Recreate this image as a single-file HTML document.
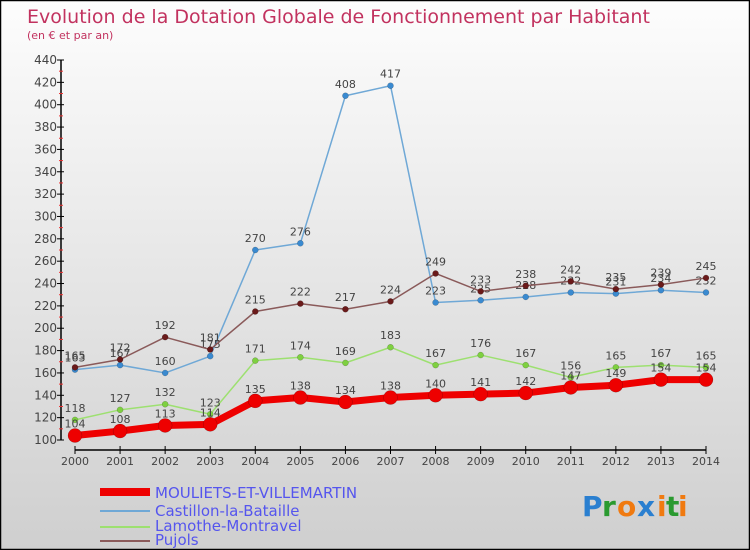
<!DOCTYPE html>
<html><head><meta charset="utf-8"><style>
body{margin:0;width:750px;height:550px;overflow:hidden}
svg{display:block;font-family:"DejaVu Sans","Liberation Sans",sans-serif}
</style></head><body>
<svg width="750" height="550" viewBox="0 0 750 550">
<defs><linearGradient id="bg" x1="0" y1="0" x2="0" y2="1"><stop offset="0" stop-color="#fdfdfd"/><stop offset="1" stop-color="#cfcfcf"/></linearGradient></defs>
<rect x="0.5" y="0.5" width="749" height="549" fill="url(#bg)" stroke="#000" stroke-width="1.5"/>
<text x="27" y="23" font-size="19" fill="#c2325f">Evolution de la Dotation Globale de Fonctionnement par Habitant</text>
<text x="27" y="39" font-size="11" fill="#c2325f">(en € et par an)</text>
<g id="axes"></g>
<g id="series"></g>
<g id="legend">
<line x1="100" y1="492" x2="150" y2="492" stroke="#e00" stroke-width="8"/>
<text x="155" y="498" font-size="15" fill="#5555ee">MOULIETS-ET-VILLEMARTIN</text>
<line x1="100" y1="511" x2="150" y2="511" stroke="#6fa8d6" stroke-width="2"/>
<text x="155" y="516" font-size="15" fill="#5555ee">Castillon-la-Bataille</text>
<line x1="100" y1="527" x2="150" y2="527" stroke="#9de070" stroke-width="2"/>
<text x="155" y="531" font-size="15" fill="#5555ee">Lamothe-Montravel</text>
<line x1="100" y1="541" x2="150" y2="541" stroke="#8a5a5a" stroke-width="2"/>
<text x="155" y="545" font-size="15" fill="#5555ee">Pujols</text>
</g>
<g font-size="28" font-weight="bold" font-family="'DejaVu Sans',sans-serif">
<text x="582" y="516" fill="#2a7fd0">P</text><text x="602" y="516" fill="#2a9a30">r</text><text x="617" y="516" fill="#f07a10">o</text><text x="637" y="516" fill="#2a7fd0">x</text><text x="657" y="516" fill="#f07a10">i</text><text x="666" y="516" fill="#2a9a30">t</text><text x="678" y="516" fill="#f07a10">i</text>
</g>
</svg>
<script>
const years=[2000,2001,2002,2003,2004,2005,2006,2007,2008,2009,2010,2011,2012,2013,2014];
const yTicks=[100,120,140,160,180,200,220,240,260,280,300,320,340,360,380,400,420,440];
const mouliets=[104,108,113,114,135,138,134,138,140,141,142,147,149,154,154];
const castillon=[163,167,160,175,270,276,408,417,223,225,228,232,231,234,232];
const lamothe=[118,127,132,123,171,174,169,183,167,176,167,156,165,167,165];
const pujols=[165,172,192,181,215,222,217,224,249,233,238,242,235,239,245];
const NS='http://www.w3.org/2000/svg';
const X=i=>75+i*(706-75)/(years.length-1);
const Y=v=>440-(v-100)*(380/340);
function mk(tag,attrs,parent){const e=document.createElementNS(NS,tag);for(const k in attrs)e.setAttribute(k,attrs[k]);parent.appendChild(e);return e;}
const axes=document.getElementById('axes');
let a=mk('line',{x1:61,y1:60,x2:61,y2:440,stroke:'#000','stroke-width':1.5},axes);


a=mk('line',{x1:75,y1:450,x2:706,y2:450,stroke:'#000','stroke-width':1.5},axes);


yTicks.forEach((v,i)=>{
  mk('line',{x1:57,y1:Y(v),x2:64,y2:Y(v),stroke:'#000'},axes);
  if(i<yTicks.length-1)mk('line',{x1:59,y1:Y(v+10),x2:63,y2:Y(v+10),stroke:'#e33'},axes);
  const t=mk('text',{x:57,y:Y(v)+4,'font-size':12,'text-anchor':'end',fill:'#444'},axes);
  t.textContent=v;
  
  
});
years.forEach((yr,i)=>{
  mk('line',{x1:X(i),y1:446,x2:X(i),y2:454,stroke:'#000'},axes);
  const t=mk('text',{x:X(i),y:465,'font-size':11,'text-anchor':'middle',fill:'#444'},axes);
  t.textContent=yr;
  
  
});
const ser=document.getElementById('series');
function draw(vals,name,color,dot,w,r){
  const g=mk('g',{},ser);
  
  
  const p=mk('polyline',{points:vals.map((v,i)=>X(i)+','+Y(v)).join(' '),fill:'none',stroke:color,'stroke-width':w,'stroke-linejoin':'round'},g);
  
  
  vals.forEach((v,i)=>{
    const c=mk('circle',{cx:X(i),cy:Y(v),r:r,fill:dot,stroke:'rgba(0,0,0,0.3)','stroke-width':0.5},g);
    
    
    const t=mk('text',{x:X(i),y:Y(v)-8,'font-size':11,'text-anchor':'middle',fill:'#444'},g);
    t.textContent=v;
    
    
  });
}
draw(castillon,'castillon','#6fa8d6','#3a8ad0',1.5,3);
draw(lamothe,'lamothe','#9de070','#7ed040',1.5,3);
draw(pujols,'pujols','#8a5a5a','#6a1a1a',1.5,3);
draw(mouliets,'mouliets','#e00','#e00',7,7);
</script>
</body></html>
